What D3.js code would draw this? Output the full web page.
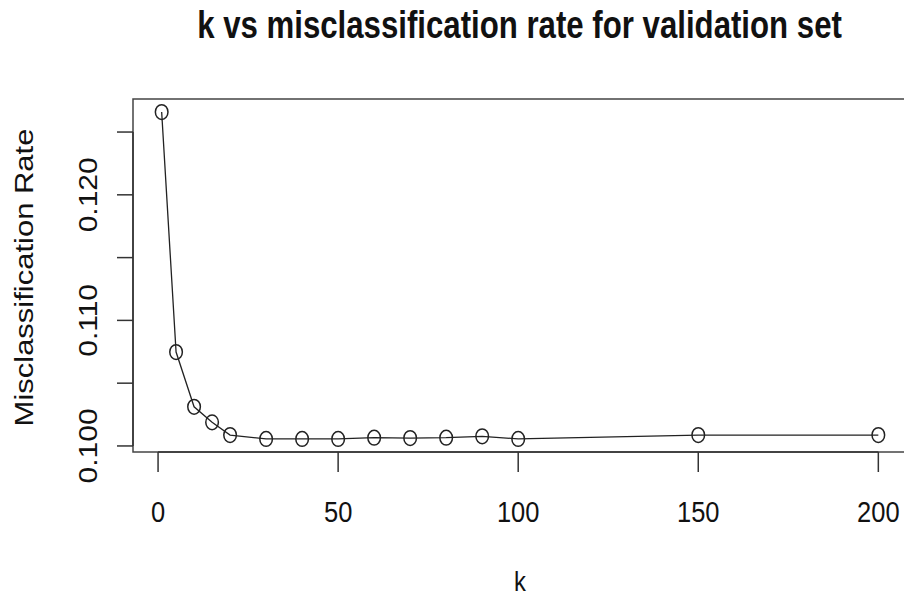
<!DOCTYPE html>
<html>
<head>
<meta charset="utf-8">
<script src="https://cdn.jsdelivr.net/npm/d3@7"></script>
<style>
  html, body { margin: 0; padding: 0; background: #fff; }
  svg text { font-family: "Liberation Sans", Arial, Helvetica, sans-serif; fill: #111; }
</style>
</head>
<body>
<div id="chart"></div>
<script>
"use strict";

/* values */
const kValues = [1, 5, 10, 15, 20, 30, 40, 50, 60, 70, 80, 90, 100, 150, 200];
const errRates = [0.12659, 0.10748, 0.10312, 0.10188, 0.10087, 0.10056, 0.10056,
  0.10056, 0.10066, 0.10063, 0.10066, 0.10077, 0.10056, 0.10087, 0.10087];
const xTicks = [0, 50, 100, 150, 200];
const yTicks = [0.100, 0.105, 0.110, 0.115, 0.120, 0.125];
const yTickLabels = [0.100, 0.110, 0.120];

const titleText = "k vs misclassification rate for validation set";
const xLabel = "k";
const yLabel = "Misclassification Rate";

const W = 904, H = 599;
const box = { left: 133, top: 99, right: 907, bottom: 452 };
// the original picture is squeezed sideways a little
const SQX = 0.85;

const svg = d3.select("#chart")
  .append("svg")
  .attr("width", W)
  .attr("height", H);

// R style: data range padded by 4% on both sides
function pad(ext) {
  const d = (ext[1] - ext[0]) * 0.04;
  return [ext[0] - d, ext[1] + d];
}

const x = d3.scaleLinear()
  .domain(pad(d3.extent(kValues)))
  .range([box.left, box.right]);

const y = d3.scaleLinear()
  .domain(pad(d3.extent(errRates)))
  .range([box.bottom, box.top]);

const data = kValues.map((k, i) => ({ k: k, v: errRates[i] }));

/* plot box */
svg.append("rect")
  .attr("x", box.left)
  .attr("y", box.top)
  .attr("width", box.right - box.left)
  .attr("height", box.bottom - box.top)
  .attr("fill", "none")
  .attr("stroke", "#444")
  .attr("stroke-width", 1.5);

/* x axis */
const xAxis = svg.append("g");
xAxis.append("line")
  .attr("x1", x(xTicks[0]))
  .attr("x2", x(xTicks[xTicks.length - 1]))
  .attr("y1", box.bottom).attr("y2", box.bottom)
  .attr("stroke", "#333").attr("stroke-width", 1.5);
xAxis.selectAll(".xtick")
  .data(xTicks)
  .enter()
  .append("line")
  .attr("class", "xtick")
  .attr("x1", d => x(d)).attr("x2", d => x(d))
  .attr("y1", box.bottom).attr("y2", box.bottom + 20)
  .attr("stroke", "#333").attr("stroke-width", 1.5);
xAxis.selectAll(".xlab")
  .data(xTicks)
  .enter()
  .append("text")
  .attr("class", "xlab")
  .attr("transform", d => `translate(${x(d)},522) scale(${SQX},1)`)
  .attr("text-anchor", "middle")
  .style("font-size", "30px")
  .text(d => d);

/* y axis */
const yAxis = svg.append("g");
yAxis.append("line")
  .attr("x1", box.left).attr("x2", box.left)
  .attr("y1", y(yTicks[0]))
  .attr("y2", y(yTicks[yTicks.length - 1]))
  .attr("stroke", "#333").attr("stroke-width", 1.5);
yAxis.selectAll(".ytick")
  .data(yTicks)
  .enter()
  .append("line")
  .attr("class", "ytick")
  .attr("x1", box.left - 16).attr("x2", box.left)
  .attr("y1", d => y(d)).attr("y2", d => y(d))
  .attr("stroke", "#333").attr("stroke-width", 1.5);
yAxis.selectAll(".ylab")
  .data(yTickLabels)
  .enter()
  .append("text")
  .attr("class", "ylab")
  .attr("transform", d => `translate(97,${y(d)}) scale(${SQX},1) rotate(-90)`)
  .attr("text-anchor", "middle")
  .style("font-size", "30px")
  .text(d => d3.format(".3f")(d));

/* line + open circles */
const line = d3.line()
  .x(d => x(d.k))
  .y(d => y(d.v));

svg.append("path")
  .datum(data)
  .attr("d", line)
  .attr("fill", "none")
  .attr("stroke", "#222")
  .attr("stroke-width", 1.3);

svg.selectAll(".pt")
  .data(data)
  .enter()
  .append("ellipse")
  .attr("class", "pt")
  .attr("cx", d => x(d.k))
  .attr("cy", d => y(d.v))
  .attr("rx", 6.3)
  .attr("ry", 7.4)
  .attr("fill", "none")
  .attr("stroke", "#222")
  .attr("stroke-width", 1.5);

/* titles */
const midX = (box.left + box.right) / 2;
const title = svg.append("text")
  .attr("text-anchor", "middle")
  .style("font-size", "38px")
  .style("font-weight", "bold")
  .text(titleText);
const tw = title.node().getComputedTextLength();
const tsx = 645 / tw;
title.attr("transform", `translate(519.5,38) scale(${tsx},1)`);

svg.append("text")
  .attr("transform", `translate(${midX},591) scale(${SQX},1)`)
  .attr("text-anchor", "middle")
  .style("font-size", "28px")
  .text(xLabel);

svg.append("text")
  .attr("transform", `translate(33,${(box.top + box.bottom) / 2 + 2}) scale(${SQX},1) rotate(-90)`)
  .attr("text-anchor", "middle")
  .style("font-size", "31px")
  .text(yLabel);
</script>
</body>
</html>
